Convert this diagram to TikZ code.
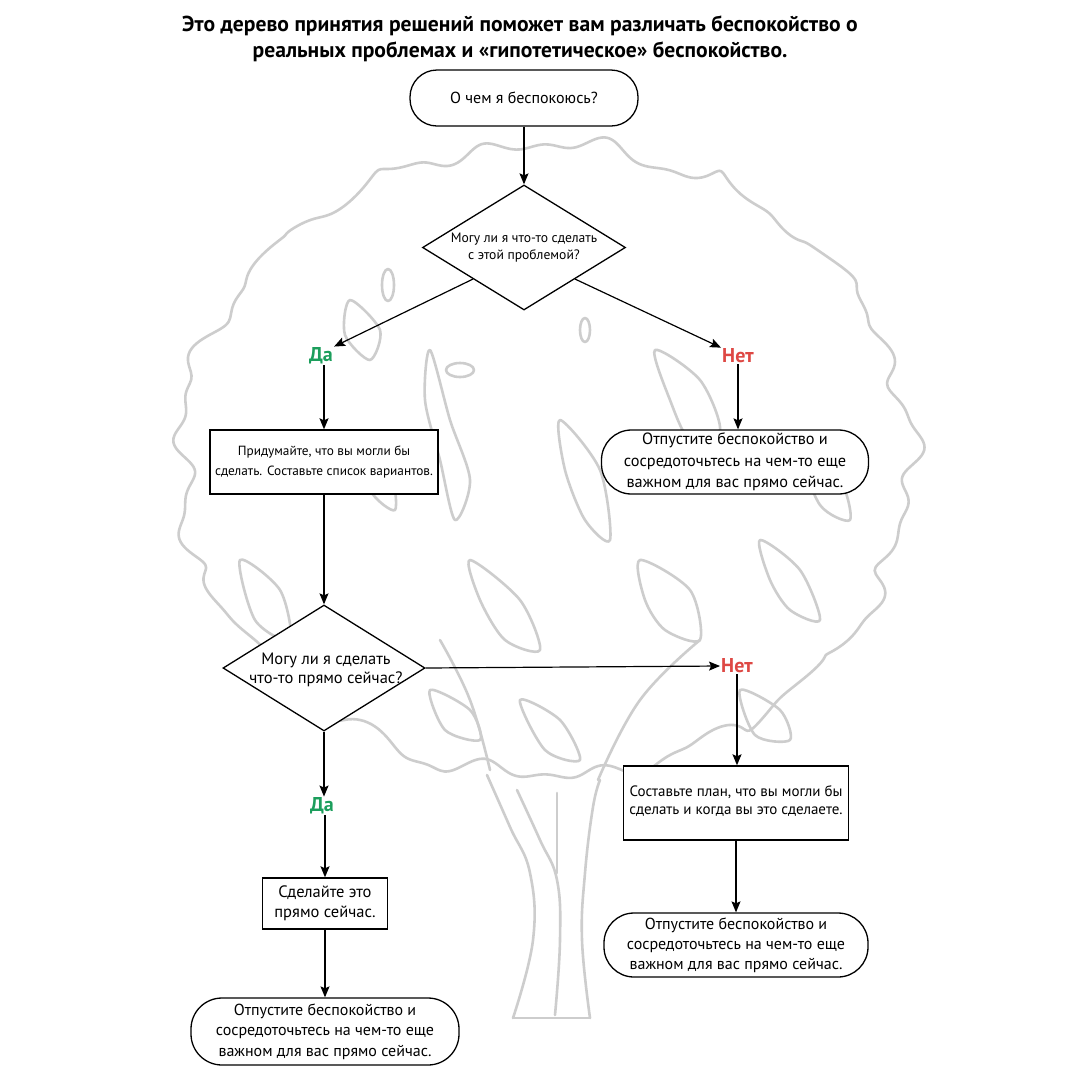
\documentclass[tikz,border=0pt]{standalone}
\usepackage{fontspec}
\setmainfont{PT Sans}
\usetikzlibrary{shapes.geometric,arrows.meta}
\definecolor{dagreen}{RGB}{28,158,92}
\definecolor{netred}{RGB}{222,72,68}
\definecolor{treegray}{RGB}{205,205,205}
\newcommand{\fsz}[2]{\fontsize{#1}{#2}\selectfont}
\begin{document}
\begin{tikzpicture}[x=1pt,y=-1pt,
  treeline/.style={draw=treegray, line width=2.6pt, line join=round, line cap=round},
  pill/.style={draw, line width=1.3pt, fill=white, rounded corners=27pt, inner sep=0pt},
  boxnode/.style={draw, line width=1.4pt, fill=white, inner sep=0pt},
  dia/.style={draw, diamond, line width=1.3pt, fill=white, inner sep=0pt},
  txt/.style={align=center, inner sep=0pt},
  yes/.style={text=dagreen, font=\bfseries\fsz{20}{22}, inner sep=1pt},
  no/.style={text=netred, font=\bfseries\fsz{20}{22}, inner sep=1pt},
  arr/.style={-{Stealth[length=11pt,width=9pt,inset=2pt]}, line width=1.2pt}
]
\useasboundingbox (0,0) rectangle (1080,1080);
\fill[white] (0,0) rectangle (1080,1080);

% ---------- decorative tree ----------
\draw[treeline] plot[domain=0:360, samples=420, smooth, variable=\t]
  ({545 + (365 + 7*sin(23*\t) + 4*sin(41*\t+30) + 6*sin(11*\t+70))*cos(\t)},
   {460 - (315 + 7*sin(19*\t+20) + 4*sin(37*\t) + 5*sin(13*\t+50))*sin(\t)}) -- cycle;
\draw[treeline] plot[smooth, tension=0.7] coordinates {(487,775) (510,827) (530,873) (533,940) (513,1018)};
\draw[treeline] plot[smooth, tension=0.7] coordinates {(600,780) (593,807) (585,873) (582,940) (590,1018)};
\draw[treeline] (513,1018) -- (590,1018);
\draw[treeline] plot[smooth, tension=0.7] coordinates {(517,790) (540,840) (557,880) (560,940) (555,1015)};
\draw[treeline] plot[smooth, tension=0.7] coordinates {(557,793) (557,873)};
% inner blobs and branches
\draw[treeline] (388,285) ellipse (6 and 16);
\draw[treeline] (585,330) ellipse (5 and 12);
\draw[treeline] (460,370) ellipse (14 and 7);
\draw[treeline] plot[smooth cycle] coordinates {(430,350) (450,420) (470,480) (455,520) (440,460) (425,400)};
\draw[treeline] plot[smooth cycle] coordinates {(655,350) (700,380) (720,430) (690,440) (670,400)};
\draw[treeline] plot[smooth cycle] coordinates {(560,420) (600,470) (610,540) (585,520) (565,470)};
\draw[treeline] plot[smooth cycle] coordinates {(470,560) (520,600) (540,650) (505,640) (480,600)};
\draw[treeline] plot[smooth cycle] coordinates {(640,560) (690,590) (700,640) (665,630) (645,600)};
\draw[treeline] plot[smooth cycle] coordinates {(760,540) (800,570) (820,620) (790,610) (770,580)};
\draw[treeline] plot[smooth cycle] coordinates {(240,560) (280,590) (290,640) (255,620)};
\draw[treeline] plot[smooth cycle] coordinates {(800,450) (840,480) (850,520) (820,505)};
\draw[treeline] plot[smooth cycle] coordinates {(350,300) (380,330) (370,360) (345,335)};
\draw[treeline] plot[smooth cycle] coordinates {(520,700) (560,720) (580,760) (545,750)};
\draw[treeline] plot[smooth cycle] coordinates {(430,690) (470,710) (480,740) (445,730)};
\draw[treeline] plot[smooth, tension=0.7] coordinates {(490,770) (470,700) (440,640)};
\draw[treeline] plot[smooth, tension=0.7] coordinates {(598,780) (640,700) (700,640)};
\draw[treeline] plot[smooth cycle] coordinates {(740,690) (780,710) (790,740) (755,735)};
\draw[treeline] plot[smooth cycle] coordinates {(360,440) (390,470) (395,510) (370,490)};

% ---------- title ----------
\node[txt, font=\bfseries\fsz{21.6}{26}] (title) at (520,39)
  {Это дерево принятия решений поможет вам различать беспокойство о\\
   реальных проблемах и «гипотетическое» беспокойство.};

% ---------- flowchart nodes ----------
\node[pill, minimum width=228pt, minimum height=56pt] (top) at (524,98) {};
\node[txt, font=\fsz{16}{18}] (topt) at (top) {О чем я беспокоюсь?};

\node[dia, minimum width=203pt, minimum height=125pt] (d1) at (524,247.5) {};
\node[txt, font=\fsz{13.6}{17}] (d1t) at (d1) {Могу ли я что-то сделать\\с этой проблемой?};

\node[yes] (da1) at (321,356) {Да};
\node[no]  (net1) at (738,356) {Нет};

\node[boxnode, minimum width=228pt, minimum height=64pt] (b1) at (324,462) {};
\node[txt, font=\fsz{13.3}{20}] (b1t) at (b1) {Придумайте, что вы могли бы\\сделать. Составьте список вариантов.};

\node[pill, minimum width=267pt, minimum height=64pt, rounded corners=30pt] (p2) at (735,462) {};
\node[txt, font=\fsz{16.3}{21.5}] (p2t) at (p2) {Отпустите беспокойство и\\сосредоточьтесь на чем-то еще\\важном для вас прямо сейчас.};

\node[dia, minimum width=202pt, minimum height=126pt] (d2) at (324,668) {};
\node[txt, font=\fsz{16.5}{19}] (d2t) at (326,670) {Могу ли я сделать\\что-то прямо сейчас?};

\node[no] (net2) at (737,666) {Нет};

\node[boxnode, minimum width=225pt, minimum height=74pt] (b3) at (736,803) {};
\node[txt, font=\fsz{15}{18}] (b3t) at (736,801) {Составьте план, что вы могли бы\\сделать и когда вы это сделаете.};

\node[yes] (da2) at (322,806) {Да};

\node[boxnode, minimum width=125pt, minimum height=51pt] (b4) at (325,903.5) {};
\node[txt, font=\fsz{16.5}{20}] (b4t) at (b4) {Сделайте это\\прямо сейчас.};

\node[pill, minimum width=268pt, minimum height=67pt, rounded corners=31pt] (p4) at (325,1031.5) {};
\node[txt, font=\fsz{16}{20.5}] (p4t) at (p4) {Отпустите беспокойство и\\сосредоточьтесь на чем-то еще\\важном для вас прямо сейчас.};

\node[pill, minimum width=264pt, minimum height=64pt, rounded corners=30pt] (p3) at (736,945) {};
\node[txt, font=\fsz{16}{20}] (p3t) at (p3) {Отпустите беспокойство и\\сосредоточьтесь на чем-то еще\\важном для вас прямо сейчас.};

% ---------- connectors ----------
\draw[arr] (top.south) -- (d1.north);
\draw[arr] (d1.south west) -- (da1.north east);
\draw[arr] (d1.south east) -- (net1.north west);
\draw[arr] (da1.south -| b1.north) -- (b1.north);
\draw[arr] (net1.south) -- (net1.south |- p2.north);
\draw[arr] (b1.south) -- (d2.north);
\draw[arr] (d2.east) -- (net2.west);
\draw[arr] (net2.south) -- (net2.south |- b3.north);
\draw[arr] (d2.south) -- (d2.south |- da2.north);
\draw[arr] (da2.south -| b4.north) -- (b4.north);
\draw[arr] (b4.south) -- (b4.south |- p4.north);
\draw[arr] (b3.south) -- (b3.south |- p3.north);
\end{tikzpicture}
\end{document}
